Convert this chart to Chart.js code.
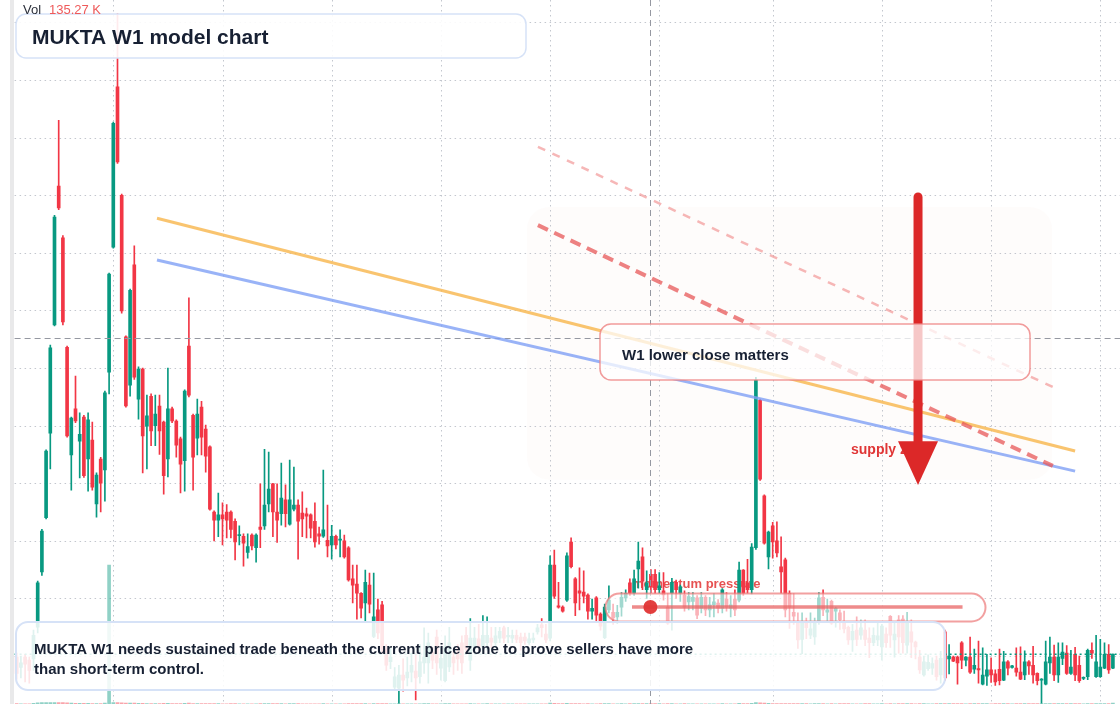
<!DOCTYPE html>
<html><head><meta charset="utf-8">
<script src="https://cdn.jsdelivr.net/npm/chart.js@4.4.1/dist/chart.umd.min.js"></script>
<style>html,body{margin:0;padding:0;background:#fff;overflow:hidden}#wrap{position:relative;width:1120px;height:704px}canvas{display:block}</style>
</head><body><div id="wrap"><canvas id="c" width="1120" height="704"></canvas></div>
<script>
// ---- weekly OHLC ----
const opens = [
49.8,48.0,49.8,49.3,49.5,55.0,64.6,74.0,88.7,107.5,
131.6,122.6,103.6,84.9,92.9,87.3,91.5,84.2,87.5,76.4,
84.2,82.3,99.3,121.0,148.8,130.0,105.4,97.0,117.9,94.6,
99.8,89.9,95.1,90.0,93.4,90.6,84.2,92.9,90.8,87.7,
83.9,103.8,91.8,87.8,93.2,89.4,86.3,75.0,73.6,74.5,
75.0,75.0,73.4,70.9,70.8,68.0,71.0,68.8,72.4,72.6,
76.4,79.9,75.0,74.7,77.1,72.9,75.5,76.2,74.8,74.7,
74.5,73.4,71.2,70.8,70.1,69.3,70.8,70.1,70.0,68.8,
63.4,62.5,60.9,59.2,62.3,53.4,58.0,58.9,51.2,49.0,
44.6,44.4,46.7,46.2,47.2,47.4,46.4,48.8,48.8,50.7,
53.3,47.9,45.7,48.1,49.8,50.7,52.3,53.6,49.3,51.6,
53.0,51.6,52.3,53.1,52.3,53.1,54.9,53.3,53.1,53.6,
53.3,53.3,52.3,52.8,54.2,55.4,53.8,53.1,65.8,58.7,
58.5,59.7,69.8,63.4,61.3,61.1,60.6,57.8,60.1,57.3,
53.2,58.0,57.6,56.8,58.5,60.1,62.7,60.9,65.1,67.2,
61.5,64.2,64.2,61.5,61.3,58.5,60.9,62.8,60.9,60.6,
59.4,59.5,60.1,58.3,60.2,58.0,58.9,59.2,58.3,59.9,
58.3,59.9,59.7,64.9,62.7,61.5,68.8,94.4,77.8,67.2,
72.6,70.0,65.5,66.7,60.9,57.6,55.7,52.9,55.9,53.6,
53.3,55.9,60.2,57.6,59.5,57.8,57.5,55.9,55.0,52.8,
54.5,53.6,54.5,53.1,52.3,52.8,51.6,53.8,56.9,52.8,
56.3,56.4,51.9,54.2,52.4,49.8,46.7,47.8,47.9,49.3,
46.7,54.2,49.5,49.8,49.8,52.3,49.3,49.8,47.7,47.8,
45.1,46.5,47.6,46.9,47.7,45.8,49.0,48.0,47.9,47.2,
46.7,49.0,48.4,47.0,45.8,45.1,48.8,49.8,46.7,49.6,
50.5,47.0,50.3,48.4,46.1,46.4,51.0,46.4,46.4,47.9,
50.3,47.9];
const highs = [
50.5,50.0,50.3,49.8,54.5,63.0,72.0,85.8,104.0,126.5,
143.0,123.0,103.8,91.5,98.6,92.2,91.8,92.2,90.6,81.8,
84.5,96.0,116.5,142.7,161.5,130.2,105.6,113.7,121.2,100.2,
100.0,95.3,95.5,95.3,95.3,90.8,100.0,93.2,91.0,88.0,
96.2,112.2,92.0,94.6,94.2,90.1,86.5,75.2,78.3,76.6,
76.3,75.2,73.8,72.6,71.2,71.2,71.2,71.2,79.9,85.9,
85.4,80.0,79.9,83.5,79.7,84.0,82.8,77.1,78.5,75.7,
74.7,76.6,72.4,82.3,76.2,72.7,71.0,71.9,71.0,69.0,
65.8,65.8,61.0,64.9,64.4,64.4,59.9,59.5,52.0,51.5,
48.0,48.4,49.5,49.8,50.5,50.5,52.0,54.9,54.0,51.5,
54.5,51.5,53.5,55.0,50.8,52.0,53.5,55.0,56.5,55.0,
55.5,57.0,56.8,55.0,55.0,55.0,55.2,55.0,54.5,54.5,
54.0,54.0,54.0,54.0,55.5,56.5,55.5,67.4,68.4,62.8,
58.7,67.9,70.5,63.6,65.3,64.8,60.8,59.9,60.3,57.5,
59.0,62.2,59.0,58.8,61.0,61.5,63.4,64.9,69.8,68.8,
64.8,65.0,65.0,64.5,64.5,60.8,63.5,63.2,62.3,61.3,
61.0,61.0,60.5,61.0,60.5,60.2,60.8,59.8,61.7,61.0,
60.5,61.5,66.3,65.0,66.8,69.5,98.4,94.6,78.0,71.7,
73.2,73.3,70.7,67.0,61.3,60.8,57.5,57.5,56.6,57.5,
56.6,61.0,61.5,59.9,59.7,58.5,58.0,57.8,55.2,55.5,
56.8,56.3,56.3,54.9,54.9,56.0,55.5,54.9,57.0,55.8,
57.0,57.0,57.6,56.3,52.6,51.0,50.0,50.2,49.7,50.0,
50.8,54.5,52.0,50.0,50.0,52.5,49.9,53.3,51.2,52.6,
51.4,50.3,49.7,47.6,51.2,50.8,49.2,48.4,51.4,51.6,
50.9,49.2,51.7,47.1,46.1,52.6,53.3,51.9,52.3,52.3,
51.8,51.0,51.5,50.0,46.4,51.2,52.3,53.6,52.9,52.3,
52.0,50.4];
const lows = [
46.0,46.2,45.5,45.3,47.5,54.0,64.0,73.8,82.5,107.3,
127.5,107.5,88.0,78.8,90.5,80.9,81.0,78.6,78.8,74.1,
75.0,76.9,95.5,120.8,135.5,109.5,93.2,95.1,98.0,91.1,
81.8,82.5,86.5,86.5,85.0,78.1,81.1,90.5,84.5,78.3,
78.6,95.0,78.8,84.9,84.9,81.9,75.3,70.0,70.7,69.3,
70.5,70.5,66.7,69.3,65.6,67.0,68.4,66.3,68.8,72.0,
75.0,70.7,69.7,72.7,72.4,72.7,75.2,66.8,70.7,70.5,
70.5,68.9,69.4,70.6,67.2,66.8,68.6,67.2,67.0,63.0,
59.2,56.4,56.6,55.9,57.5,53.2,53.0,50.5,47.5,47.8,
44.0,41.8,43.9,44.8,45.5,42.4,45.3,47.0,45.3,47.8,
46.8,45.8,45.5,47.3,46.8,47.5,47.0,50.5,47.5,51.0,
51.0,50.5,51.0,51.5,51.5,52.3,52.3,52.3,52.3,52.3,
51.0,52.0,52.0,52.3,53.8,53.3,52.3,52.6,60.0,58.3,
57.6,59.5,65.3,57.0,58.0,59.2,56.4,56.4,56.1,54.5,
53.0,57.5,55.5,55.6,56.9,59.5,60.5,60.5,61.8,61.5,
60.0,61.0,60.9,60.9,59.7,55.5,54.5,60.0,59.5,57.8,
58.0,58.0,56.5,57.5,57.0,56.8,56.8,57.5,57.5,57.8,
56.8,57.0,59.4,60.5,60.9,60.8,68.5,80.5,69.4,65.1,
67.0,67.2,60.9,56.8,54.8,55.5,51.3,50.4,53.0,53.0,
52.0,55.5,57.0,56.1,55.5,55.0,54.6,54.0,52.0,50.8,
51.8,52.9,51.8,49.7,51.8,51.8,49.3,51.5,51.5,49.8,
50.5,50.5,50.5,49.7,49.5,47.0,46.5,47.5,46.8,45.8,
45.3,45.8,46.9,49.0,45.1,47.8,48.3,47.0,47.0,45.3,
45.0,44.9,45.4,44.9,45.0,45.7,46.7,47.9,46.5,45.9,
45.9,46.8,45.3,45.0,41.8,45.0,47.0,45.7,45.4,48.5,
46.8,46.8,45.7,45.4,45.9,45.9,49.6,46.3,46.3,47.8,
47.0,47.8];
const closes = [
47.0,48.8,48.6,47.5,53.6,62.7,71.7,85.6,103.5,126.2,
127.8,108.0,88.2,91.3,90.8,88.5,81.3,91.0,79.3,81.4,
80.0,95.7,116.3,142.5,135.8,109.9,93.4,113.5,98.4,99.8,
88.2,91.7,89.1,92.0,89.1,81.3,92.9,90.8,86.6,83.3,
96.0,95.3,84.5,92.0,88.0,84.7,75.5,73.6,74.5,73.8,
73.6,72.0,69.8,71.1,69.6,69.0,69.1,71.0,72.0,76.2,
79.0,75.0,73.6,77.4,74.7,77.1,76.2,73.4,73.8,74.3,
72.2,69.8,70.8,71.9,69.1,70.8,69.3,70.3,67.2,63.2,
62.3,60.9,58.3,62.8,59.0,56.8,54.0,51.2,48.4,49.8,
46.4,46.7,45.8,47.2,48.4,46.2,49.0,49.8,52.3,49.3,
48.8,49.6,51.6,52.3,48.8,49.5,48.8,51.2,53.1,53.1,
51.6,53.6,53.6,52.4,53.5,54.3,53.1,53.6,53.6,52.9,
52.3,52.6,53.0,53.1,54.9,54.9,52.8,65.8,60.4,58.5,
57.8,67.4,65.5,59.2,60.9,60.4,57.8,58.3,57.1,55.2,
58.5,59.7,56.6,57.6,60.2,60.9,60.9,63.4,66.5,63.0,
62.7,62.0,61.5,62.2,60.6,55.7,62.8,61.5,62.0,58.5,
60.3,60.2,57.1,60.2,58.0,58.9,59.4,58.3,61.5,58.5,
58.9,58.0,64.9,60.9,61.5,68.9,97.9,80.7,69.6,71.5,
69.8,67.9,64.6,58.0,58.5,56.9,52.8,55.7,54.9,54.7,
55.9,60.1,58.0,58.0,55.7,58.3,56.3,54.7,52.8,54.3,
52.9,54.9,52.9,52.3,53.6,53.5,55.2,52.3,53.6,53.8,
53.3,52.3,55.7,52.4,51.6,47.6,49.0,48.9,48.7,46.4,
49.6,46.2,50.0,49.1,48.8,49.3,49.8,47.2,48.4,47.6,
46.7,47.6,46.7,45.5,45.7,49.0,47.9,48.3,47.2,46.0,
49.0,48.3,46.7,45.7,46.0,49.0,49.8,46.7,49.8,50.7,
47.0,48.1,46.7,45.7,46.3,51.0,50.5,49.0,48.1,50.3,
47.6,50.3];
// weekly volume, thousands
const volumes = [
42,35,31,28,95,160,175,190,198,205,
196,180,150,120,88,76,90,84,70,66,
72,110,18500,190,185,140,120,135,128,90,
96,70,64,58,61,75,92,50,55,63,
80,110,72,60,58,54,70,48,40,38,
36,40,45,30,34,29,27,33,52,70,
55,49,42,47,38,52,41,44,36,31,
33,35,28,50,37,30,26,29,32,48,
44,46,40,43,39,45,41,52,47,35,
38,42,30,28,33,36,39,45,41,31,
37,34,40,42,29,30,35,38,44,31,
30,36,41,28,27,29,31,25,24,26,
28,23,25,24,30,33,29,120,95,48,
40,88,72,60,44,38,42,35,39,41,
50,46,37,33,40,36,45,52,70,66,
48,55,50,41,39,47,53,38,35,40,
32,30,37,34,36,31,29,33,42,35,
31,38,75,60,52,90,175,150,110,80,
72,66,70,64,58,49,52,47,40,38,
45,60,51,39,48,36,40,42,44,39,
37,35,41,43,33,31,46,38,50,36,
44,47,52,45,38,55,48,37,35,49,
51,62,58,40,47,53,36,50,42,55,
57,44,39,48,52,60,43,30,49,54,
58,41,56,47,70,66,59,62,64,50,
55,46,60,57,33,72,58,68,61,64,
59,135.27];
const weeks = opens.map((_, i) => 'W' + (i + 1));
const gridWeeks = [23, 49, 75, 101, 127, 153, 180, 206, 232, 258];
const priceTicks = [50, 60, 70, 80, 90, 100, 110, 120, 130, 140, 150, 160];

// ---- drawings, in week-index / price units ----
const trendOrange = [[33.4, 126.0], [252, 85.6]];
const trendBlue = [[33.4, 118.75], [252, 82.1]];
const resistThick = [[124.1, 124.8], [246.7, 83.0]];
const resistThin = [[124.1, 138.4], [246.7, 96.7]];
const supplyArrow = { week: 214.6, from: 129.7, headBase: 87.3, to: 79.7 };
const crosshair = { week: 151, price: 105.2 };
const zoneRect = { from: 121.5, to: 246.5, top: 127.95, bottom: 80.6 };
const momentum = { from: 146.5, to: 225.2, level: 58.5, dot: 151 };

const UP = '#089981', DOWN = '#f23645';
const isUp = opens.map((o, i) => closes[i] >= o);
const candleColors = isUp.map(u => u ? UP : DOWN);
const volColors = isUp.map(u => u ? 'rgba(8,153,129,0.45)' : 'rgba(242,54,69,0.45)');
const bodies = opens.map((o, i) => [Math.min(o, closes[i]), Math.max(o, closes[i])]);
const wicks = lows.map((l, i) => [l, highs[i]]);

const FONT = '"Liberation Sans", Arial, Helvetica, sans-serif';

function rr(ctx, x, y, w, h, r) {
  ctx.beginPath();
  ctx.moveTo(x + r, y);
  ctx.arcTo(x + w, y, x + w, y + h, r);
  ctx.arcTo(x + w, y + h, x, y + h, r);
  ctx.arcTo(x, y + h, x, y, r);
  ctx.arcTo(x, y, x + w, y, r);
  ctx.closePath();
}
function box(ctx, b, fill, stroke, lw) {
  rr(ctx, b.x, b.y, b.w, b.h, b.r);
  ctx.fillStyle = fill; ctx.fill();
  ctx.lineWidth = lw; ctx.strokeStyle = stroke; ctx.stroke();
}

const overlay = {
  id: 'overlay',
  beforeDatasetsDraw(chart) {
    const ctx = chart.ctx, a = chart.chartArea;
    const X = v => chart.scales.x.getPixelForValue(v), Y = v => chart.scales.y.getPixelForValue(v);
    ctx.save();
    ctx.fillStyle = '#e9e9ea';
    ctx.fillRect(10, 0, 4, chart.height);
    rr(ctx, X(zoneRect.from), Y(zoneRect.top), X(zoneRect.to) - X(zoneRect.from), Y(zoneRect.bottom) - Y(zoneRect.top), 22);
    ctx.fillStyle = 'rgba(246,236,224,0.14)'; ctx.fill();
    ctx.strokeStyle = 'rgba(170,175,185,0.7)'; ctx.lineWidth = 1; ctx.setLineDash([1.5, 3.5]);
    priceTicks.forEach(p => { const y = Math.round(Y(p)) + 0.5; ctx.beginPath(); ctx.moveTo(a.left, y); ctx.lineTo(a.right + 5, y); ctx.stroke(); });
    gridWeeks.forEach(w => { const x = Math.round(X(w)) + 0.5; ctx.beginPath(); ctx.moveTo(x, 0); ctx.lineTo(x, chart.height); ctx.stroke(); });
    ctx.setLineDash([]);
    ctx.font = 'bold 13px ' + FONT; ctx.fillStyle = 'rgba(226,52,52,0.85)'; ctx.textBaseline = 'alphabetic';
    ctx.fillText('momentum pressure', X(momentum.from), 587.5);
    ctx.restore();
  },
  afterDatasetsDraw(chart) {
    const ctx = chart.ctx, a = chart.chartArea;
    const X = v => chart.scales.x.getPixelForValue(v), Y = v => chart.scales.y.getPixelForValue(v);
    ctx.save();
    ctx.strokeStyle = '#9598a1'; ctx.lineWidth = 1; ctx.setLineDash([6, 4]);
    const cx = Math.round(X(crosshair.week)) - 0.5, cy = Math.round(Y(crosshair.price)) + 0.5;
    ctx.beginPath(); ctx.moveTo(cx, 0); ctx.lineTo(cx, chart.height); ctx.stroke();
    ctx.beginPath(); ctx.moveTo(a.left, cy); ctx.lineTo(chart.width, cy); ctx.stroke();
    ctx.strokeStyle = UP; ctx.lineWidth = 1.5; ctx.setLineDash([2, 3]);
    const ly = Y(closes[closes.length - 1]);
    ctx.beginPath(); ctx.moveTo(a.left, ly); ctx.lineTo(chart.width, ly); ctx.stroke();
    ctx.setLineDash([]);
    const seg = (pts, color, w, dash) => {
      ctx.strokeStyle = color; ctx.lineWidth = w; ctx.setLineDash(dash || []); ctx.lineCap = 'butt';
      ctx.beginPath(); ctx.moveTo(X(pts[0][0]), Y(pts[0][1]));
      for (let k = 1; k < pts.length; k++) ctx.lineTo(X(pts[k][0]), Y(pts[k][1]));
      ctx.stroke(); ctx.setLineDash([]);
    };
    seg(trendOrange, 'rgba(248,186,86,0.85)', 3);
    seg(trendBlue, 'rgba(128,160,245,0.8)', 3);
    seg(resistThin, 'rgba(240,135,135,0.6)', 2.5, [8, 8]);
    seg(resistThick, 'rgba(232,88,88,0.75)', 4, [11, 7]);
    ctx.font = 'bold 14px ' + FONT; ctx.fillStyle = '#e03636'; ctx.textBaseline = 'alphabetic';
    ctx.fillText('supply zone', 851, 453.5);
    const ax = X(supplyArrow.week);
    ctx.strokeStyle = '#dc2828'; ctx.lineWidth = 9; ctx.lineCap = 'round';
    ctx.beginPath(); ctx.moveTo(ax, Y(supplyArrow.from)); ctx.lineTo(ax, Y(supplyArrow.headBase) + 2); ctx.stroke();
    ctx.lineCap = 'butt';
    ctx.fillStyle = '#dc2828';
    ctx.beginPath(); ctx.moveTo(ax - 20, Y(supplyArrow.headBase)); ctx.lineTo(ax + 20, Y(supplyArrow.headBase)); ctx.lineTo(ax, Y(supplyArrow.to)); ctx.closePath(); ctx.fill();
    box(ctx, { x: 600, y: 324, w: 430, h: 56, r: 11 }, 'rgba(255,255,255,0.74)', 'rgba(238,130,130,0.8)', 1.5);
    ctx.font = 'bold 15px ' + FONT; ctx.fillStyle = '#172033';
    ctx.fillText('W1 lower close matters', 622, 359.5);
    box(ctx, { x: 605.5, y: 593.5, w: 380, h: 28, r: 14 }, 'rgba(255,255,255,0.62)', 'rgba(236,120,120,0.7)', 2);
    ctx.strokeStyle = 'rgba(232,100,100,0.75)'; ctx.lineWidth = 3.5;
    ctx.beginPath(); ctx.moveTo(X(momentum.from), Y(momentum.level)); ctx.lineTo(X(momentum.to), Y(momentum.level)); ctx.stroke();
    ctx.fillStyle = 'rgba(224,52,52,0.95)';
    ctx.beginPath(); ctx.arc(X(momentum.dot) - 0.5, Y(momentum.level), 7, 0, Math.PI * 2); ctx.fill();
    box(ctx, { x: 16, y: 622, w: 929, h: 68, r: 12 }, 'rgba(255,255,255,0.87)', 'rgba(214,226,247,1)', 2);
    ctx.font = 'bold 15px ' + FONT; ctx.fillStyle = '#172033';
    ctx.fillText('MUKTA W1 needs sustained trade beneath the current price zone to prove sellers have more', 34, 654);
    ctx.fillText('than short-term control.', 34, 673.5);
    box(ctx, { x: 16, y: 14, w: 510, h: 44, r: 10 }, 'rgba(255,255,255,0.9)', 'rgba(214,226,247,1)', 1.5);
    ctx.font = 'bold 21px ' + FONT; ctx.fillStyle = '#172033';
    ctx.fillText('MUKTA W1 model chart', 32, 43.5);
    ctx.font = '13px ' + FONT; ctx.fillStyle = '#2a2e39';
    ctx.fillText('Vol', 23, 13.5);
    ctx.fillStyle = '#ef5a5a';
    ctx.fillText(volumes[volumes.length - 1].toFixed(2) + ' K', 49, 13.5);
    ctx.restore();
  }
};

new Chart(document.getElementById('c').getContext('2d'), {
  type: 'bar',
  data: {
    labels: weeks,
    datasets: [
      { label: 'Body', data: bodies, backgroundColor: candleColors, barThickness: 3, grouped: false, order: 1, minBarLength: 1, yAxisID: 'y', borderWidth: 0 },
      { label: 'Wick', data: wicks, backgroundColor: candleColors, barThickness: 1, grouped: false, order: 2, yAxisID: 'y', borderWidth: 0 },
      { label: 'Volume', data: volumes, backgroundColor: volColors, barThickness: 3, grouped: false, order: 3, yAxisID: 'yv', borderWidth: 0 }
    ]
  },
  options: {
    responsive: false,
    animation: false,
    events: [],
    layout: { padding: { left: 14.6, right: 5, top: 0, bottom: 0 } },
    plugins: { legend: { display: false }, tooltip: { enabled: false } },
    scales: {
      x: { type: 'category', display: false, offset: true },
      y: { type: 'linear', display: false, min: 41.67, max: 163.89 },
      yv: { type: 'linear', display: false, min: 0, max: 93700 }
    }
  },
  plugins: [overlay]
});
</script>
</body></html>
